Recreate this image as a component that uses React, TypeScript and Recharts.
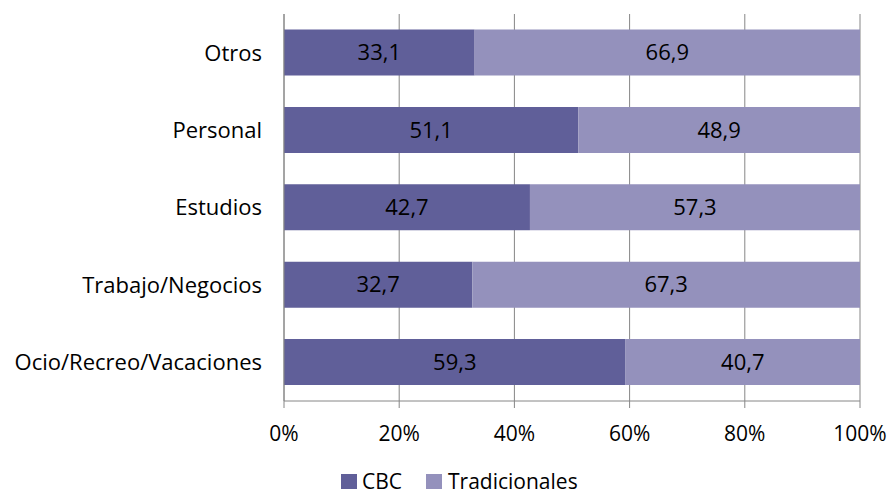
import React from 'react'
import { Bar, BarChart, CartesianGrid, LabelList, Legend, XAxis, YAxis } from 'recharts'

const categories = ['Otros', 'Personal', 'Estudios', 'Trabajo/Negocios', 'Ocio/Recreo/Vacaciones']
const cbc = [33.1, 51.1, 42.7, 32.7, 59.3]
const tradicionales = [66.9, 48.9, 57.3, 67.3, 40.7]
const xTicks = [0, 20, 40, 60, 80, 100]

const COLORS = { cbc: '#605F99', trad: '#9491BC', grid: '#868686' }
const FONT = '"Open Sans", "Noto Sans", sans-serif'

const data = categories.map((name, i) => ({ name, cbc: cbc[i], trad: tradicionales[i] }))

const fmt = (v: number) => v.toFixed(1).replace('.', ',')

const LegendContent = () => (
  <div
    style={{
      display: 'flex',
      justifyContent: 'flex-start',
      alignItems: 'center',
      height: 40,
      paddingTop: 12,
      paddingLeft: 341,
      boxSizing: 'border-box',
      fontFamily: FONT,
      fontSize: 21,
      lineHeight: '24px',
      color: '#000',
    }}
  >
    <span style={{ width: 16, height: 15, background: COLORS.cbc, marginRight: 5 }} />
    <span style={{ marginRight: 24 }}>CBC</span>
    <span style={{ width: 16, height: 15, background: COLORS.trad, marginRight: 6 }} />
    <span>Tradicionales</span>
  </div>
)

export default function App() {
  return (
    <div style={{ position: 'absolute', left: 0, top: 0, background: '#fff' }}>
      <BarChart
        width={891}
        height={495}
        data={data}
        layout="vertical"
        margin={{ top: 14, right: 31, bottom: 0, left: 0 }}
        barCategoryGap="20%"
      >
        <CartesianGrid horizontal={false} stroke={COLORS.grid} strokeWidth={1} />
        <XAxis
          type="number"
          domain={[0, 100]}
          ticks={xTicks}
          tickFormatter={(v) => `${v}%`}
          tick={{ fill: '#000', fontSize: 21, fontFamily: FONT }}
          axisLine={{ stroke: COLORS.grid }}
          tickLine={{ stroke: COLORS.grid }}
          tickSize={7}
          tickMargin={18}
          height={54}
          interval={0}
        />
        <YAxis
          type="category"
          dataKey="name"
          width={284}
          tick={{ fill: '#000', fontSize: 22, fontFamily: FONT }}
          axisLine={{ stroke: COLORS.grid }}
          tickLine={false}
          tickSize={0}
          tickMargin={22}
        />
        <Legend content={<LegendContent />} verticalAlign="bottom" height={40} />
        <Bar dataKey="cbc" name="CBC" stackId="a" fill={COLORS.cbc} isAnimationActive={false}>
          <LabelList
            dataKey="cbc"
            position="center"
            formatter={(v: number) => fmt(v)}
            fill="#000"
            style={{ fontSize: 22, fontFamily: FONT }}
          />
        </Bar>
        <Bar dataKey="trad" name="Tradicionales" stackId="a" fill={COLORS.trad} isAnimationActive={false}>
          <LabelList
            dataKey="trad"
            position="center"
            formatter={(v: number) => fmt(v)}
            fill="#000"
            style={{ fontSize: 22, fontFamily: FONT }}
          />
        </Bar>
      </BarChart>
    </div>
  )
}
